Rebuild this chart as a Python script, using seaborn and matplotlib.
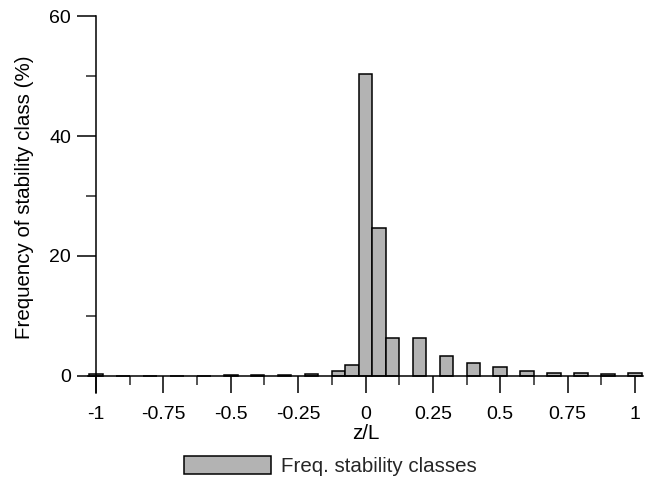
import numpy as np
import pandas as pd
import matplotlib
matplotlib.use("Agg")
import matplotlib.pyplot as plt
import seaborn as sns
from matplotlib.ticker import MultipleLocator, FuncFormatter
from matplotlib.patches import Patch

# --- dane: środki klas z/L i częstość (%) ---
zl_centers = [-1.0, -0.9, -0.8, -0.7, -0.6, -0.5, -0.4, -0.3, -0.2,
              -0.1, -0.05, 0.0, 0.05, 0.1,
              0.2, 0.3, 0.4, 0.5, 0.6, 0.7, 0.8, 0.9, 1.0]
freq_pct = [0.3, 0.05, 0.05, 0.05, 0.05, 0.1, 0.1, 0.15, 0.3,
            0.9, 1.8, 50.3, 24.6, 6.4,
            6.3, 3.4, 2.2, 1.5, 0.85, 0.5, 0.45, 0.3, 0.45]
legend_label = "Freq. stability classes"

df = pd.DataFrame({"zL": np.round(zl_centers, 3), "freq": freq_pct})

sns.set_theme(style="white")
plt.rcParams["font.family"] = ["Liberation Sans", "DejaVu Sans"]
plt.rcParams["axes.unicode_minus"] = False

fig = plt.figure(figsize=(6.49, 4.83), dpi=100)
W, H = 649, 483
# oś: -1.03..1.03 w x, -2.9..60 w y
ax = fig.add_axes([88 / W, 1 - 393.4 / H, 555 / W, (393.4 - 16) / H])

bar_color = "#b3b3b3"
sns.barplot(data=df, x="zL", y="freq", native_scale=True, width=1.0,
            color=bar_color, saturation=1, edgecolor="black", linewidth=1.1,
            errorbar=None, ax=ax)

ax.set_xlim(-1.03, 1.03)
ax.set_ylim(-2.9, 60)

ax.spines["top"].set_visible(False)
ax.spines["right"].set_visible(False)
ax.spines["left"].set_position(("data", -1))
ax.spines["bottom"].set_position(("data", 0))
for s in ("left", "bottom"):
    ax.spines[s].set_linewidth(1.1)
    ax.spines[s].set_color("black")
ax.spines["left"].set_bounds(-2.9, 60)
ax.spines["bottom"].set_bounds(-1.03, 1.03)

ax.xaxis.set_major_locator(MultipleLocator(0.25))
ax.xaxis.set_minor_locator(MultipleLocator(0.125))
ax.yaxis.set_major_locator(MultipleLocator(20))
ax.yaxis.set_minor_locator(MultipleLocator(10))
fmt = FuncFormatter(lambda v, p: f"{v:g}")
ax.xaxis.set_major_formatter(fmt)
ax.yaxis.set_major_formatter(fmt)

ax.tick_params(axis="x", which="major", direction="out", length=12.5, width=1.1,
               pad=9, labelsize=14, colors="black", bottom=True)
ax.tick_params(axis="x", which="minor", direction="out", length=6.5, width=1.1,
               bottom=True)
ax.tick_params(axis="y", which="major", direction="out", length=14, width=1.1,
               pad=4, labelsize=14, colors="black", left=True)
ax.tick_params(axis="y", which="minor", direction="out", length=7, width=1.1,
               left=True)

ax.set_xlabel("z/L", fontsize=14.8, labelpad=1, color="black")
ax.set_ylabel("Frequency of stability class (%)", fontsize=14.8, color="black")
ax.yaxis.set_label_coords(-0.097, 0.52)

handle = Patch(facecolor=bar_color, edgecolor="black", linewidth=1.1)
fig.legend([handle], [legend_label], loc="center",
           bbox_to_anchor=(330 / W, 1 - 466 / H), frameon=False, fontsize=14.8,
           handlelength=4.27, handleheight=1.0, handletextpad=0.44,
           borderpad=0, borderaxespad=0)

fig.savefig("out.png", dpi=100)
